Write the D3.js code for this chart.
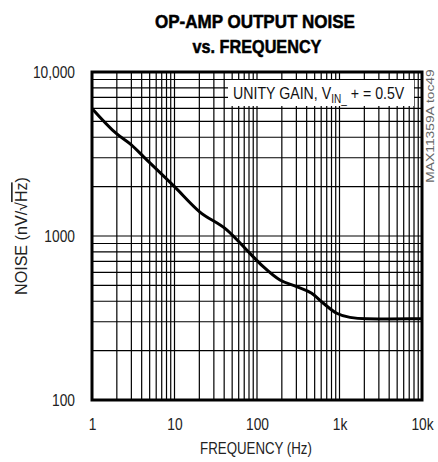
<!DOCTYPE html>
<html><head><meta charset="utf-8">
<script src="https://cdn.jsdelivr.net/npm/d3@7"></script>
<style>body{margin:0;background:#fff}svg{display:block}text{font-family:"Liberation Sans Narrow","Arial Narrow","Liberation Sans",sans-serif}</style>
</head><body>
<script>
const freqHz = [1, 2, 3, 4.2, 10, 20, 43, 82, 119, 190, 303, 460, 637, 925, 1340, 2140, 4000, 10000];
const noise = [6000, 4190, 3590, 3050, 2000, 1410, 1090, 784, 650, 539, 491, 447, 389, 338, 319, 313, 312, 313];
const xTicks = [1, 10, 100, 1000, 10000];
const xTickLabels = ["1", "10", "100", "1k", "10k"];
const yTicks = [100, 1000, 10000];
const yTickLabels = ["100", "1000", "10,000"];

const W = 438, H = 462;
const L = 92, R = 422, T = 72, B = 400;
const svg = d3.select("body").append("svg").attr("width", W).attr("height", H);
const x = d3.scaleLog().domain([1, 10000]).range([L, R]);
const y = d3.scaleLog().domain([100, 10000]).range([B, T]);

// place a text at (px,py) with optional rotation, squeezed horizontally to a target width
function placeFit(t, px, py, rot, width) {
  t.attr("x", 0).attr("y", 0);
  const w = t.node().getBBox().width;
  const s = width / w;
  t.attr("transform", `translate(${px},${py})${rot ? ` rotate(${rot})` : ""} scale(${s},1)`);
}
function narrowTicks(sel, f) {
  sel.each(function () {
    const w = this.getComputedTextLength();
    d3.select(this).attr("textLength", w * f).attr("lengthAdjust", "spacingAndGlyphs");
  });
}

const minorX = [], minorY = [];
for (let d = 1; d < 10000; d *= 10) for (let k = 1; k < 10; k++) minorX.push(d * k);
for (let d = 100; d < 10000; d *= 10) for (let k = 1; k < 10; k++) minorY.push(d * k);

const g = svg.append("g");
g.selectAll(".vx").data(minorX.slice(1)).enter().append("line")
  .attr("x1", d => x(d)).attr("x2", d => x(d)).attr("y1", T).attr("y2", B)
  .attr("stroke", "#000").attr("stroke-width", 1.2);
g.selectAll(".hy").data(minorY.slice(1)).enter().append("line")
  .attr("x1", L).attr("x2", R).attr("y1", d => y(d)).attr("y2", d => y(d))
  .attr("stroke", "#000").attr("stroke-width", 1.2);

// annotation box
svg.append("rect").attr("x", 228).attr("y", 80).attr("width", 186).attr("height", 26).attr("fill", "#fff");
const ann = svg.append("text").attr("font-size", 17).attr("fill", "#111");
ann.append("tspan").text("UNITY GAIN, V");
ann.append("tspan").attr("dy", 4).attr("font-size", 12).text("IN_");
ann.append("tspan").attr("dy", -4).text(" + = 0.5V");
placeFit(ann, 233, 99, 0, 172);

// curve
const line = d3.line().x(d => x(d[0])).y(d => y(d[1])).curve(d3.curveMonotoneX);
svg.append("path").datum(freqHz.map((f, i) => [f, noise[i]]))
  .attr("d", line).attr("fill", "none").attr("stroke", "#000").attr("stroke-width", 3);

// frame
svg.append("rect").attr("x", L).attr("y", T).attr("width", R - L).attr("height", B - T)
  .attr("fill", "none").attr("stroke", "#000").attr("stroke-width", 3);

// axes (labels only)
const xAxis = d3.axisBottom(x).tickValues(xTicks).tickFormat((d, i) => xTickLabels[i]).tickSize(0).tickPadding(18);
const xa = svg.append("g").attr("transform", `translate(0,${B})`).call(xAxis);
xa.select(".domain").remove();
xa.selectAll("text").attr("font-size", 17).attr("fill", "#222").attr("font-family", null);
narrowTicks(xa.selectAll("text"), 0.81);

const yAxis = d3.axisLeft(y).tickValues(yTicks).tickFormat((d, i) => yTickLabels[i]).tickSize(0).tickPadding(17);
const ya = svg.append("g").attr("transform", `translate(${L},0)`).call(yAxis);
ya.select(".domain").remove();
ya.selectAll("text").attr("font-size", 17).attr("fill", "#222").attr("font-family", null);
narrowTicks(ya.selectAll("text"), 0.81);

// titles
const t1 = svg.append("text").attr("text-anchor", "middle")
  .attr("font-size", 18).attr("font-weight", "bold").attr("fill", "#000").attr("stroke", "#000").attr("stroke-width", 0.5).text("OP-AMP OUTPUT NOISE");
placeFit(t1, 255, 28, 0, 200);
const t2 = svg.append("text").attr("text-anchor", "middle")
  .attr("font-size", 18).attr("font-weight", "bold").attr("fill", "#000").attr("stroke", "#000").attr("stroke-width", 0.5).text("vs. FREQUENCY");
placeFit(t2, 257, 53, 0, 129);

const xt = svg.append("text").attr("text-anchor", "middle")
  .attr("font-size", 16).attr("fill", "#222").text("FREQUENCY (Hz)");
placeFit(xt, 256, 454, 0, 112);

const yt = svg.append("text").attr("text-anchor", "middle")
  .attr("font-size", 16).attr("fill", "#222");
yt.append("tspan").text("NOISE (nV/√");
yt.append("tspan").style("text-decoration", "overline").text("Hz");
yt.append("tspan").text(")");
placeFit(yt, 27, 236, -90, 118);

const side = svg.append("text").attr("text-anchor", "middle")
  .attr("font-size", 10).attr("fill", "#666").text("MAX11359A toc49");
placeFit(side, 434, 126, -90, 114);
</script>
</body></html>
